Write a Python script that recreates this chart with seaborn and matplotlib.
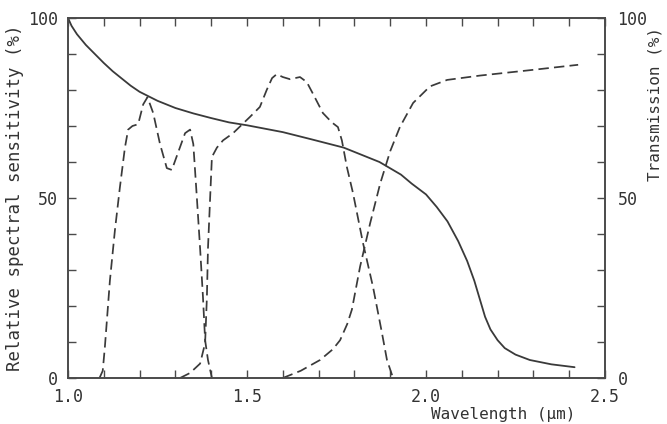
import matplotlib
matplotlib.use("Agg")
import matplotlib.pyplot as plt
from matplotlib.ticker import MultipleLocator
import seaborn as sns
import pandas as pd

# ---- data ----
solid_wl = [1.0, 1.01, 1.025, 1.05, 1.075, 1.1, 1.125, 1.15, 1.175, 1.2, 1.25, 1.3, 1.35, 1.4,
            1.45, 1.5, 1.6, 1.68, 1.77, 1.87, 1.93, 1.96, 2.0, 2.03, 2.06, 2.09, 2.115, 2.135,
            2.15, 2.165, 2.18, 2.2, 2.22, 2.25, 2.29, 2.35, 2.415]
solid_sens = [100, 97.8, 95.5, 92.5, 90, 87.5, 85.2, 83.2, 81.2, 79.5, 77, 75, 73.5, 72.2,
              71, 70.2, 68.3, 66.3, 64, 60, 56.5, 54, 51, 47.5, 43.5, 38, 32.5, 27,
              22, 17, 13.5, 10.5, 8.3, 6.5, 5, 3.8, 3]

j_wl = [1.088, 1.097, 1.103, 1.117, 1.131, 1.145, 1.159, 1.168, 1.18, 1.196, 1.21, 1.222,
        1.238, 1.257, 1.276, 1.29, 1.307, 1.327, 1.341, 1.35, 1.36, 1.369, 1.377, 1.383,
        1.391, 1.402]
j_trans = [0, 2, 8.6, 27, 41, 53, 64, 69, 70, 70.5, 76, 78,
           73.6, 65, 58.3, 57.8, 62.5, 68, 69, 65, 50, 36, 22.5, 10.5,
           5, 0]

h_wl = [1.313, 1.341, 1.369, 1.383, 1.388, 1.391, 1.397, 1.402, 1.416, 1.433, 1.461, 1.508,
        1.536, 1.555, 1.57, 1.583, 1.6, 1.62, 1.648, 1.667, 1.684, 1.712, 1.737, 1.754,
        1.765, 1.779, 1.796, 1.824, 1.852, 1.877, 1.891, 1.908]
h_trans = [0, 1.4, 4, 9.7, 22.5, 36, 50, 61.4, 64, 66, 68, 72.5,
           75.3, 80, 83.3, 84.4, 83.6, 83, 83.6, 82.2, 79, 73.6, 71, 69.7,
           66, 58.6, 51.4, 37.5, 25.3, 12.5, 5, 0]

k_wl = [1.6, 1.65, 1.704, 1.74, 1.76, 1.78, 1.793, 1.816, 1.844, 1.872, 1.9, 1.927,
        1.964, 2.011, 2.059, 2.15, 2.29, 2.425]
k_trans = [0, 2, 5, 8, 10.5, 15, 19, 31, 43, 54, 63, 69.7,
           76.4, 81, 82.8, 84, 85.5, 87]

x_ticks = [1.0, 1.5, 2.0, 2.5]
x_tick_labels = ["1.0", "1.5", "2.0", "2.5"]
y_ticks = [0, 50, 100]
y_tick_labels = ["0", "50", "100"]

# ---- styling ----
sns.set_theme(style="white")
plt.rcParams['font.family'] = ['DejaVu Sans Mono', 'DejaVu Sans']
ink = "#3a3a3a"
spine_c = "#4a4a4a"
txt_c = "#333333"

fig = plt.figure(figsize=(6.67, 4.24), dpi=100)
ax = fig.add_axes([68 / 667, 1 - 378 / 424, (605 - 68) / 667, (378 - 18) / 424])

solid_df = pd.DataFrame({"wl": solid_wl, "v": solid_sens})
sns.lineplot(data=solid_df, x="wl", y="v", ax=ax, color=ink, linewidth=1.3,
             sort=False, estimator=None)

dash = (6.0, 3.0)
for wl, tr in [(j_wl, j_trans), (h_wl, h_trans), (k_wl, k_trans)]:
    df = pd.DataFrame({"wl": wl, "v": tr})
    sns.lineplot(data=df, x="wl", y="v", ax=ax, color=ink, linewidth=1.25,
                 sort=False, estimator=None, dashes=False, linestyle=(0, dash))

ax.set_xlim(1.0, 2.5)
ax.set_ylim(0, 100)
ax.set_xticks(x_ticks)
ax.set_xticklabels(x_tick_labels)
ax.set_yticks(y_ticks)
ax.set_yticklabels(y_tick_labels)
ax.xaxis.set_minor_locator(MultipleLocator(0.1))
ax.yaxis.set_minor_locator(MultipleLocator(10))

ax2 = ax.twinx()
ax2.set_ylim(0, 100)
ax2.set_yticks(y_ticks)
ax2.set_yticklabels(y_tick_labels)
ax2.yaxis.set_minor_locator(MultipleLocator(10))
ax2.grid(False)
ax.grid(False)

for a in (ax, ax2):
    for s in a.spines.values():
        s.set_color(spine_c)
        s.set_linewidth(1.2)

ax.tick_params(axis="both", which="both", direction="in", length=6, width=1.0,
               color=spine_c, labelsize=12, labelcolor=txt_c, pad=7)
ax.tick_params(axis="x", which="both", top=True, bottom=True, pad=7)
ax.tick_params(axis="y", which="both", left=True, right=False)
ax2.tick_params(axis="y", which="both", direction="in", length=6, width=1.0,
                color=spine_c, labelsize=12, labelcolor=txt_c, pad=9,
                left=False, right=True)

ax.set_xlabel("Wavelength (µm)", fontsize=11.5, color=txt_c)
ax.xaxis.set_label_coords(0.81, -0.081)
ax.set_ylabel("Relative spectral sensitivity (%)", fontsize=12.5, color=txt_c)
ax.yaxis.set_label_coords(-0.082, 0.5)
ax2.set_ylabel("Transmission (%)", fontsize=11.5, color=txt_c)
ax2.yaxis.set_label_coords(1.079, 0.76)

fig.savefig("out.png", dpi=100, facecolor="white")
